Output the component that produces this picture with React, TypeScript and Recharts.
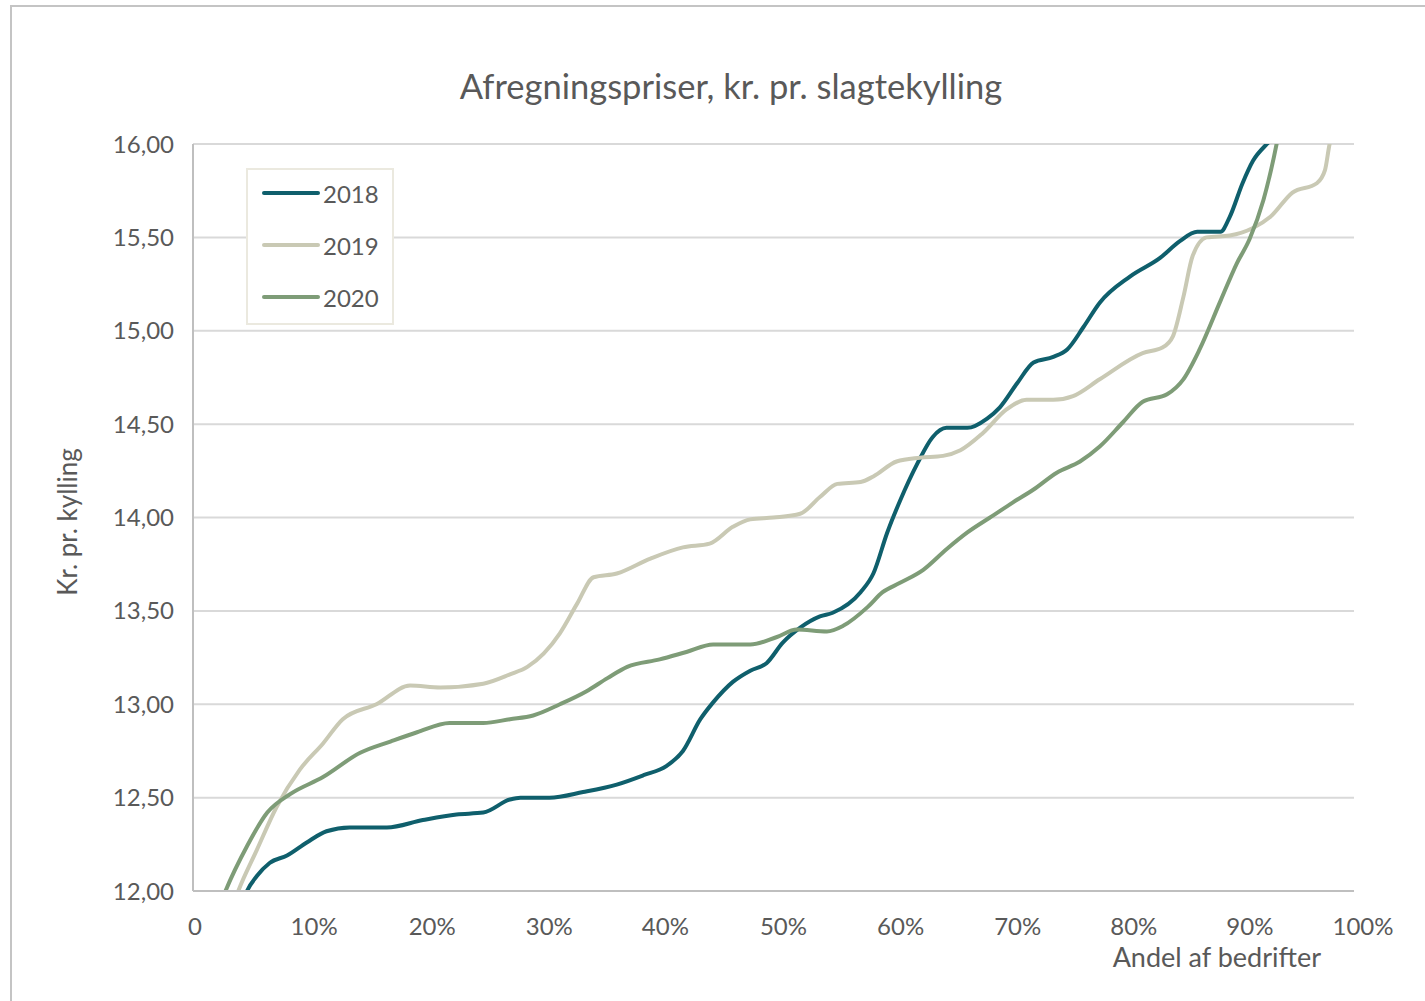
import { CartesianGrid, Line, LineChart, XAxis, YAxis } from "recharts";

// share of farms (%) and settlement price (kr. per chicken)
const share2018 = [3.8, 4.65, 5.5, 6.6, 8.1, 9.8, 11.5, 13.5, 16.7, 19.8, 22.7, 25.0, 27.3, 28.2, 30.7, 33.6, 36.5, 38.8, 40.8, 42.2, 43.7, 44.8, 46.5, 48.0, 49.4, 50.8, 52.3, 54.0, 55.1, 57.5, 58.6, 59.8, 60.9, 62.4, 63.7, 64.9, 66.7, 68.4, 69.5, 71.0, 72.4, 74.1, 75.3, 76.7, 78.1, 80.7, 83.3, 85.0, 86.5, 88.5, 89.3, 90.4, 91.3, 92.5, 93.5];
const price2018 = [11.85, 12.0, 12.08, 12.15, 12.19, 12.26, 12.32, 12.34, 12.34, 12.38, 12.41, 12.42, 12.49, 12.5, 12.5, 12.53, 12.57, 12.62, 12.67, 12.75, 12.92, 13.01, 13.12, 13.18, 13.22, 13.33, 13.41, 13.47, 13.49, 13.6, 13.7, 13.92, 14.09, 14.29, 14.43, 14.48, 14.48, 14.53, 14.59, 14.72, 14.83, 14.86, 14.9, 15.02, 15.15, 15.29, 15.39, 15.48, 15.53, 15.53, 15.61, 15.79, 15.91, 16.0, 16.06];

const share2019 = [3.2, 3.9, 5.5, 7.2, 9.2, 11.2, 12.9, 15.8, 18.7, 21.3, 25.0, 27.3, 28.8, 31.6, 33.1, 34.5, 36.5, 39.4, 42.2, 44.5, 46.5, 48.0, 50.0, 52.3, 54.0, 55.5, 57.5, 58.6, 60.6, 62.6, 64.6, 66.1, 68.0, 70.1, 71.8, 74.1, 75.8, 78.1, 81.8, 83.5, 84.4, 85.3, 86.1, 87.3, 89.3, 91.3, 92.8, 94.7, 96.8, 97.5, 97.9, 98.5];
const price2019 = [11.88, 12.0, 12.22, 12.45, 12.65, 12.79, 12.92, 13.0, 13.1, 13.09, 13.11, 13.16, 13.2, 13.38, 13.54, 13.68, 13.7, 13.78, 13.84, 13.86, 13.95, 13.99, 14.0, 14.02, 14.11, 14.18, 14.19, 14.22, 14.3, 14.32, 14.33, 14.36, 14.45, 14.58, 14.63, 14.63, 14.65, 14.74, 14.88, 14.91, 14.97, 15.18, 15.4, 15.5, 15.51, 15.55, 15.61, 15.74, 15.79, 15.86, 16.0, 16.1];

const share2020 = [2.0, 2.8, 4.65, 6.4, 8.4, 11.2, 14.4, 17.0, 19.3, 22.1, 25.0, 27.3, 29.3, 31.6, 33.9, 35.7, 37.4, 40.2, 42.5, 44.8, 48.0, 50.3, 52.0, 54.6, 56.0, 58.1, 59.4, 60.9, 62.9, 64.9, 66.7, 68.9, 70.6, 72.4, 74.4, 76.4, 78.1, 80.1, 81.8, 83.9, 85.3, 86.7, 88.5, 89.9, 91.0, 92.2, 93.1, 93.4, 93.8];
const price2020 = [11.87, 12.0, 12.24, 12.42, 12.52, 12.61, 12.74, 12.8, 12.85, 12.9, 12.9, 12.92, 12.94, 13.0, 13.07, 13.14, 13.2, 13.24, 13.28, 13.32, 13.32, 13.36, 13.4, 13.39, 13.42, 13.52, 13.6, 13.65, 13.72, 13.83, 13.92, 14.01, 14.08, 14.15, 14.24, 14.3, 14.38, 14.51, 14.62, 14.66, 14.74, 14.9, 15.16, 15.36, 15.49, 15.7, 15.93, 16.02, 16.15];

const yTicks = [12, 12.5, 13, 13.5, 14, 14.5, 15, 15.5, 16];
const xTicks = [0, 10, 20, 30, 40, 50, 60, 70, 80, 90, 100];

// the original's x labels sit a little right of their gridpositions
const xLabelShift = [2, 5, 7, 8, 8, 10, 11, 12, 12, 12, 9];

const toRows = (xs: number[], ys: number[]) => xs.map((p, i) => ({ p, v: ys[i] }));

const series = [
  { name: "2018", color: "#0f5f6c", data: toRows(share2018, price2018) },
  { name: "2019", color: "#c9c9b4", data: toRows(share2019, price2019) },
  { name: "2020", color: "#7e9c77", data: toRows(share2020, price2020) },
];

const font = "Lato, 'Open Sans', sans-serif";
const textColor = "#595959";

function XTick(props: any) {
  const { x, y, payload, index } = props;
  const v = payload.value as number;
  return (
    <text
      x={x + (xLabelShift[index] ?? 0)}
      y={y}
      dy="0.71em"
      textAnchor="middle"
      fill={textColor}
      fontSize={24}
      fontFamily={font}
    >
      {v === 0 ? "0" : `${v}%`}
    </text>
  );
}

function LegendBox() {
  return (
    <div
      style={{
        position: "absolute",
        left: 246,
        top: 168,
        border: "2px solid #ebe9df",
        background: "#fff",
        width: 148,
        height: 157,
        boxSizing: "border-box",
        fontFamily: font,
      }}
    >
      <div style={{ marginTop: -3 }}>
        {series.map((s) => (
          <div key={s.name} style={{ display: "flex", alignItems: "center", height: 52 }}>
            <span
              style={{
                display: "inline-block",
                marginLeft: 14,
                width: 58,
                height: 4,
                borderRadius: 2,
                background: s.color,
              }}
            />
            <span style={{ fontSize: 24, color: textColor, marginLeft: 3 }}>{s.name}</span>
          </div>
        ))}
      </div>
    </div>
  );
}

export default function App() {
  return (
    <div style={{ position: "absolute", left: 0, top: 0, width: 1425, height: 1001, background: "#fff" }}>
      <div
        style={{
          position: "absolute",
          left: 10,
          top: 5,
          width: 1415,
          height: 996,
          borderTop: "2px solid #c4c4c4",
          borderLeft: "2px solid #c4c4c4",
          boxSizing: "border-box",
        }}
      />
      <div
        style={{
          position: "absolute",
          left: 0,
          width: 1462,
          top: 65,
          textAlign: "center",
          fontFamily: font,
          fontSize: 34.5,
          color: textColor,
        }}
      >
        Afregningspriser, kr. pr. slagtekylling
      </div>
      <div
        style={{
          position: "absolute",
          left: 67,
          top: 522,
          transform: "translate(-50%, -50%) rotate(-90deg)",
          whiteSpace: "nowrap",
          fontFamily: font,
          fontSize: 26,
          color: textColor,
        }}
      >
        Kr. pr. kylling
      </div>
      <div
        style={{
          position: "absolute",
          right: 1425 - 1321,
          top: 940,
          whiteSpace: "nowrap",
          fontFamily: font,
          fontSize: 27,
          color: textColor,
        }}
      >
        Andel af bedrifter
      </div>
      <div style={{ position: "absolute", left: 0, top: 0 }}>
        <LineChart
          width={1425}
          height={1001}
          margin={{ top: 144, right: 71, bottom: 0, left: 0 }}
        >
          <CartesianGrid horizontal vertical={false} stroke="#d9d9d9" strokeWidth={2} />
          <XAxis
            type="number"
            dataKey="p"
            domain={[0, 100]}
            ticks={xTicks}
            allowDataOverflow
            tick={<XTick />}
            tickLine={false}
            tickSize={0}
            tickMargin={27}
            stroke="#bfbfbf"
            strokeWidth={2}
            height={110}
          />
          <YAxis
            type="number"
            domain={[12, 16]}
            ticks={yTicks}
            allowDataOverflow
            tickFormatter={(v: number) => v.toFixed(2).replace(".", ",")}
            tick={{ fontSize: 24, fill: textColor, fontFamily: font }}
            tickLine={false}
            tickSize={0}
            tickMargin={19}
            stroke="#bfbfbf"
            strokeWidth={2}
            width={193}
          />
          {series.map((s) => (
            <Line
              key={s.name}
              data={s.data}
              dataKey="v"
              name={s.name}
              type="monotone"
              stroke={s.color}
              strokeWidth={4}
              dot={false}
              activeDot={false}
              isAnimationActive={false}
            />
          ))}
        </LineChart>
      </div>
      <LegendBox />
    </div>
  );
}
